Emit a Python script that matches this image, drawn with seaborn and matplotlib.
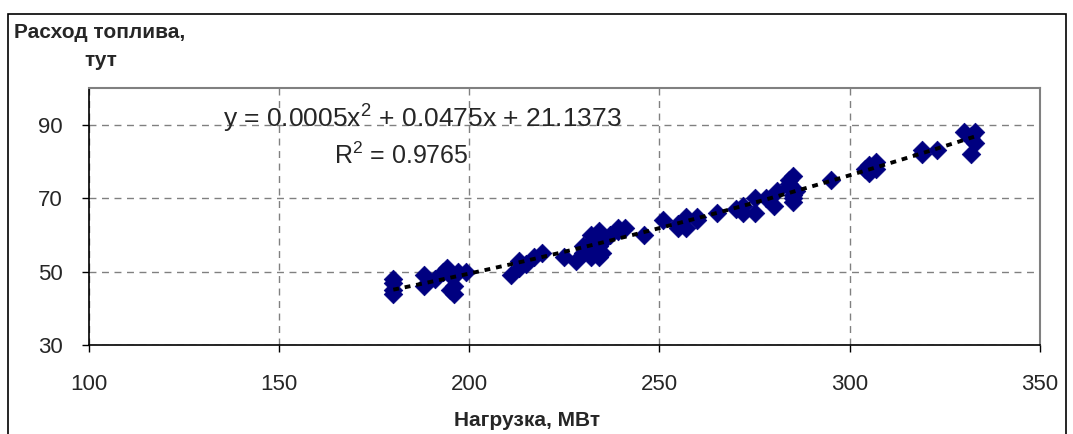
import numpy as np
import pandas as pd
import matplotlib
matplotlib.use("Agg")
import matplotlib.pyplot as plt
import seaborn as sns
from matplotlib.patches import Rectangle

# Load (MW) and fuel consumption (tce)
load_mw = [180, 180, 180, 180, 188, 188, 191, 193, 194, 195, 195, 196, 196, 197, 199,
           211, 213, 213, 215, 217, 219, 225, 228, 230, 230, 232, 232, 232, 232,
           234, 234, 234, 234, 235, 235, 237, 239, 239, 241, 246,
           251, 255, 255, 257, 257, 260, 260, 265, 270, 272, 272, 275, 275, 278,
           280, 281, 284, 284, 284, 285, 285, 285, 285, 286, 295,
           304, 305, 305, 307, 307, 319, 319, 323, 330, 332, 332, 332, 333, 333]
fuel_tce = [44, 45, 47, 48, 46, 49, 48, 50, 51, 49, 45, 44, 46, 50, 50,
            49, 51, 53, 52, 54, 55, 54, 53, 55, 57, 58, 60, 56, 54,
            61, 59, 57, 54, 55, 58, 60, 61, 62, 62, 60,
            64, 62, 63, 65, 62, 64, 65, 66, 67, 68, 66, 70, 66, 70,
            68, 72, 74, 73, 75, 76, 71, 70, 69, 72, 75,
            78, 79, 77, 80, 78, 83, 82, 83, 88, 86, 87, 82, 85, 88]

x_ticks = [100, 150, 200, 250, 300, 350]
y_ticks = [30, 50, 70, 90]
equation = "y = 0.0005x$^2$ + 0.0475x + 21.1373"
r_squared = "R$^2$ = 0.9765"

df = pd.DataFrame({"load": load_mw, "fuel": fuel_tce})

sns.set_style("white")
plt.rcParams['font.family'] = ['Liberation Sans', 'DejaVu Sans']
plt.rcParams['mathtext.fontset'] = 'custom'
plt.rcParams['mathtext.rm'] = 'Liberation Sans'

fig = plt.figure(figsize=(10.73, 4.34), dpi=100)
ax = fig.add_axes([0.083, 0.205, 0.886, 0.592])

# quadratic trend line
sns.regplot(data=df, x="load", y="fuel", order=2, ci=None, scatter=False, ax=ax,
            line_kws={"color": "black", "lw": 2.8, "linestyle": (0, (1.5, 1.5)), "zorder": 3})
sns.scatterplot(data=df, x="load", y="fuel", marker="D", s=90, color="#000080",
                edgecolor="#000080", linewidth=0.5, ax=ax, zorder=2)

ax.set_xlim(100, 350)
ax.set_ylim(30, 100)
ax.set_xticks(x_ticks)
ax.set_yticks(y_ticks)
ax.tick_params(axis="both", labelsize=16, direction="out", length=5, width=1,
               color="black", bottom=True, left=True)
ax.tick_params(axis="x", pad=16)
ax.tick_params(axis="y", pad=14)
ax.grid(True, color="#808080", linestyle=(0, (5, 4)), linewidth=1)
ax.set_axisbelow(True)

for s in ["left", "bottom"]:
    ax.spines[s].set_color("black")
    ax.spines[s].set_linewidth(1.2)
for s in ["top", "right"]:
    ax.spines[s].set_color("#808080")
    ax.spines[s].set_linewidth(1.5)

ax.set_xlabel("")
ax.set_ylabel("")
ax.text(0.35, 0.887, equation, transform=ax.transAxes, fontsize=19, ha="center", va="center")
ax.text(0.328, 0.735, r_squared, transform=ax.transAxes, fontsize=18, ha="center", va="center")

fig.text(14 / 1073, 1 - 33 / 434, "Расход топлива,", fontsize=15, fontweight="bold",
         ha="left", va="center")
fig.text(101 / 1073, 1 - 60 / 434, "тут", fontsize=15, fontweight="bold",
         ha="center", va="center")
fig.text(527 / 1073, 1 - 420 / 434, "Нагрузка, МВт", fontsize=15, fontweight="bold",
         ha="center", va="center")

# outer chart frame
fig.patches.append(Rectangle((8 / 1073, -0.1), 1058 / 1073, 1.1 - 14 / 434,
                             transform=fig.transFigure, fill=False, edgecolor="black",
                             linewidth=1.2))

fig.savefig("out.png", dpi=100)
